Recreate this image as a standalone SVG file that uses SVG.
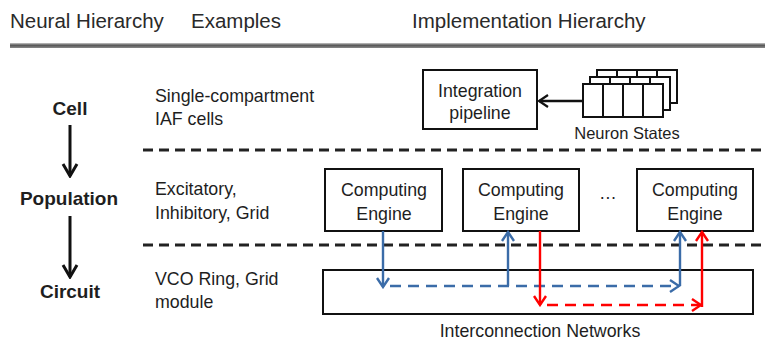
<svg xmlns="http://www.w3.org/2000/svg" width="765" height="345" viewBox="0 0 765 345">
  <defs>
    <linearGradient id="ruleGrad" x1="0" y1="0" x2="0" y2="1">
      <stop offset="0" stop-color="#c8c8c8"/>
      <stop offset="0.45" stop-color="#555"/>
      <stop offset="1" stop-color="#8a8a8a"/>
    </linearGradient>
    <marker id="headBlack" markerUnits="userSpaceOnUse" viewBox="-14 -9 16 18" markerWidth="16" markerHeight="18" refX="0" refY="0" orient="auto">
      <path d="M-12,-7 L0,0 L-12,7" fill="none" stroke="#111" stroke-width="3"/>
    </marker>
    <marker id="headSmall" markerUnits="userSpaceOnUse" viewBox="-12 -8 14 16" markerWidth="14" markerHeight="16" refX="0" refY="0" orient="auto">
      <path d="M-9,-6 L0,0 L-9,6" fill="none" stroke="#111" stroke-width="2.2"/>
    </marker>
    <marker id="headBlue" markerUnits="userSpaceOnUse" viewBox="-12 -8 14 16" markerWidth="14" markerHeight="16" refX="0" refY="0" orient="auto">
      <path d="M-9,-6 L0,0 L-9,6" fill="none" stroke="#3b6ca8" stroke-width="2.4"/>
    </marker>
    <marker id="headRed" markerUnits="userSpaceOnUse" viewBox="-12 -8 14 16" markerWidth="14" markerHeight="16" refX="0" refY="0" orient="auto">
      <path d="M-9,-6 L0,0 L-9,6" fill="none" stroke="#ff0000" stroke-width="2.4"/>
    </marker>
  </defs>
  <style>
    text { font-family: "Liberation Sans", Arial, sans-serif; fill: #1e1e1e; }
    .hdr { font-size: 20.5px; fill: #2a2a2a; }
    .lvl { font-size: 19px; font-weight: bold; text-anchor: middle; }
    .ex { font-size: 17.8px; }
    .lbl { font-size: 17.8px; text-anchor: middle; }
    .box { fill: #fff; stroke: #111; stroke-width: 2; }
    .sep { stroke: #222; stroke-width: 3; stroke-dasharray: 10 6; fill: none; }
    .blue { stroke: #3b6ca8; stroke-width: 2.4; fill: none; }
    .red { stroke: #ff0000; stroke-width: 2.4; fill: none; }
    .dash { stroke-dasharray: 11 7; }
  </style>

  <rect width="765" height="345" fill="#fff"/>

  <!-- column headings and rule -->
  <g id="header">
    <text class="hdr" x="10" y="28">Neural Hierarchy</text>
    <text class="hdr" x="191" y="28">Examples</text>
    <text class="hdr" x="412" y="28">Implementation Hierarchy</text>
    <rect x="10" y="43" width="755" height="5" fill="url(#ruleGrad)"/>
  </g>

  <!-- level separators -->
  <g id="separators">
    <line class="sep" x1="143" y1="150" x2="765" y2="150"/>
    <line class="sep" x1="143" y1="245" x2="765" y2="245"/>
  </g>

  <!-- neural hierarchy levels -->
  <g id="level-cell"><text class="lvl" x="70" y="115">Cell</text></g>
  <g id="level-population"><text class="lvl" x="69" y="205">Population</text></g>
  <g id="level-circuit"><text class="lvl" x="70" y="298">Circuit</text></g>

  <!-- examples -->
  <g id="ex-cell">
    <text class="ex" x="155" y="102">Single-compartment</text>
    <text class="ex" x="155" y="125">IAF cells</text>
  </g>
  <g id="ex-population">
    <text class="ex" x="155" y="195">Excitatory,</text>
    <text class="ex" x="155" y="219">Inhibitory, Grid</text>
  </g>
  <g id="ex-circuit">
    <text class="ex" x="155" y="285">VCO Ring, Grid</text>
    <text class="ex" x="155" y="308">module</text>
  </g>

  <!-- cell level implementation -->
  <g id="integration-pipeline">
    <rect class="box" x="423" y="70" width="114" height="59"/>
    <text class="lbl" x="480" y="97">Integration</text>
    <text class="lbl" x="480" y="119">pipeline</text>
  </g>

  <g id="neuron-states">
    <rect class="box" x="597" y="70" width="80" height="33"/>
    <path d="M617,70 V84 M637,70 V84 M657,70 V84" stroke="#111" stroke-width="2"/>
    <rect class="box" x="590" y="77" width="80" height="33"/>
    <path d="M610,77 V91 M630,77 V91 M650,77 V91" stroke="#111" stroke-width="2"/>
    <rect class="box" x="583" y="84" width="80" height="33"/>
    <path d="M603,84 V117 M623,84 V117 M643,84 V117" stroke="#111" stroke-width="2"/>
    <text x="627" y="139" text-anchor="middle" font-size="16.5">Neuron States</text>
  </g>

  <!-- population level implementation -->
  <g id="engine-1">
    <rect class="box" x="325" y="169" width="117" height="62"/>
    <text class="lbl" x="384" y="196">Computing</text>
    <text class="lbl" x="384" y="220">Engine</text>
  </g>
  <g id="engine-2">
    <rect class="box" x="463" y="169" width="116" height="62"/>
    <text class="lbl" x="521" y="196">Computing</text>
    <text class="lbl" x="521" y="220">Engine</text>
  </g>
  <g id="ellipsis">
    <text class="lbl" x="608" y="199">…</text>
  </g>
  <g id="engine-n">
    <rect class="box" x="637" y="169" width="116" height="62"/>
    <text class="lbl" x="695" y="196">Computing</text>
    <text class="lbl" x="695" y="220">Engine</text>
  </g>

  <!-- circuit level implementation -->
  <g id="interconnect">
    <rect class="box" x="323" y="270" width="430" height="44" stroke-width="2.4"/>
    <text class="lbl" x="540" y="337">Interconnection Networks</text>
  </g>

  <!-- connectors -->
  <g id="connectors">
    <line x1="70" y1="125" x2="70" y2="176" stroke="#111" stroke-width="3" marker-end="url(#headBlack)"/>
    <line x1="70" y1="216" x2="70" y2="277" stroke="#111" stroke-width="3" marker-end="url(#headBlack)"/>
    <line x1="583" y1="101" x2="539" y2="101" stroke="#111" stroke-width="2.4" marker-end="url(#headSmall)"/>

    <!-- engine 1 to engine n through the network -->
    <line class="blue" x1="383" y1="231" x2="383" y2="287" marker-end="url(#headBlue)"/>
    <line class="blue dash" x1="390" y1="286" x2="679" y2="286" marker-end="url(#headBlue)"/>
    <line class="blue" x1="508" y1="286" x2="508" y2="232" marker-end="url(#headBlue)"/>
    <line class="blue" x1="680" y1="286" x2="680" y2="232" marker-end="url(#headBlue)"/>

    <!-- engine 2 to engine n through the network -->
    <line class="red" x1="540" y1="231" x2="540" y2="305" marker-end="url(#headRed)"/>
    <line class="red dash" x1="547" y1="305" x2="701" y2="305" marker-end="url(#headRed)"/>
    <line class="red" x1="702" y1="307" x2="702" y2="232" marker-end="url(#headRed)"/>
  </g>
</svg>
